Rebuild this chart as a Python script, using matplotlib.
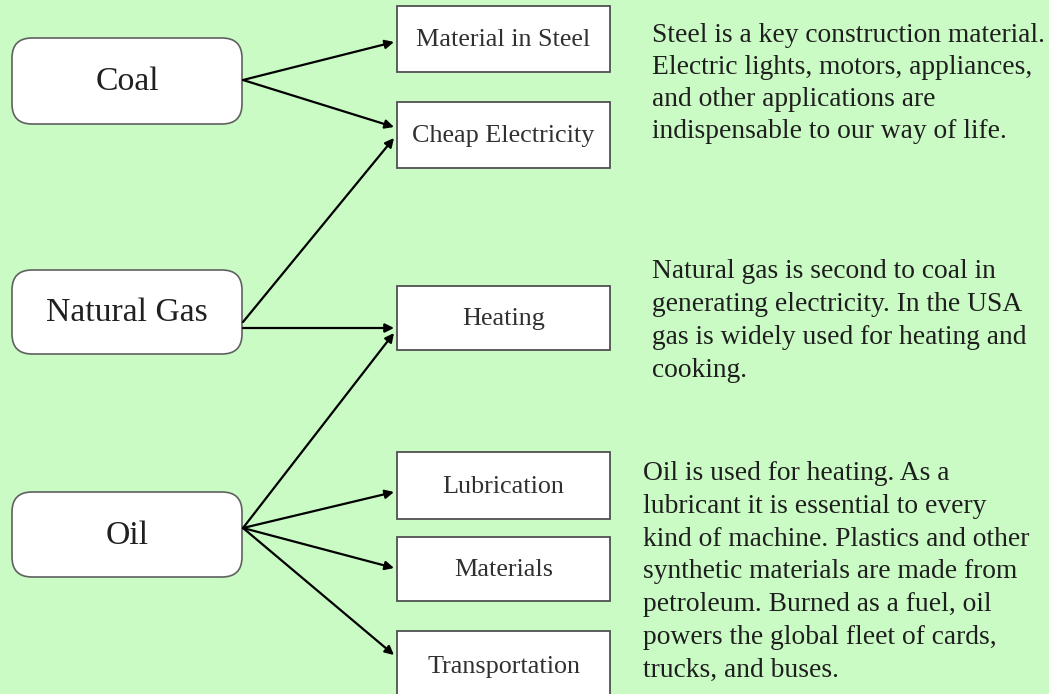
import matplotlib.pyplot as plt
from matplotlib.patches import FancyBboxPatch, Rectangle

plt.rcParams['font.family'] = ['Liberation Serif', 'DejaVu Serif']

# ── content ────────────────────────────────────────────────────────────────
sources = ["Coal", "Natural Gas", "Oil"]
uses = ["Material in Steel", "Cheap Electricity", "Heating",
        "Lubrication", "Materials", "Transportation"]
links = [("Coal", "Material in Steel"), ("Coal", "Cheap Electricity"),
         ("Natural Gas", "Cheap Electricity"), ("Natural Gas", "Heating"),
         ("Oil", "Heating"), ("Oil", "Lubrication"),
         ("Oil", "Materials"), ("Oil", "Transportation")]
notes = [
    ["Steel is a key construction material.",
     "Electric lights, motors, appliances,",
     "and other applications are",
     "indispensable to our way of life."],
    ["Natural gas is second to coal in",
     "generating electricity. In the USA",
     "gas is widely used for heating and",
     "cooking."],
    ["Oil is used for heating. As a",
     "lubricant it is essential to every",
     "kind of machine. Plastics and other",
     "synthetic materials are made from",
     "petroleum. Burned as a fuel, oil",
     "powers the global fleet of cards,",
     "trucks, and buses."],
]

# ── layout (pixels, y down) ────────────────────────────────────────────────
W, H = 1049, 694
BG = "#cbfbc4"
src_box = {"Coal": (12, 38, 230, 86), "Natural Gas": (12, 270, 230, 84),
           "Oil": (12, 492, 230, 85)}
use_box = {"Material in Steel": (397, 6, 213, 66),
           "Cheap Electricity": (397, 102, 213, 66),
           "Heating": (397, 286, 213, 64),
           "Lubrication": (397, 452, 213, 67),
           "Materials": (397, 537, 213, 64),
           "Transportation": (397, 631, 213, 70)}
# arrow start / tip y for each (source, target)
start_y = {("Coal", "Material in Steel"): 80, ("Coal", "Cheap Electricity"): 80,
           ("Natural Gas", "Cheap Electricity"): 322, ("Natural Gas", "Heating"): 328,
           ("Oil", "Heating"): 528, ("Oil", "Lubrication"): 528,
           ("Oil", "Materials"): 528, ("Oil", "Transportation"): 528}
tip_y = {("Coal", "Material in Steel"): 42, ("Coal", "Cheap Electricity"): 127,
         ("Natural Gas", "Cheap Electricity"): 138, ("Natural Gas", "Heating"): 328,
         ("Oil", "Heating"): 333, ("Oil", "Lubrication"): 492,
         ("Oil", "Materials"): 568, ("Oil", "Transportation"): 655}
note_pos = [(652, 42, 32), (652, 278, 33), (643, 480, 32.8)]  # x, first baseline, step

fig = plt.figure(figsize=(W / 100, H / 100), dpi=100)
fig.patch.set_facecolor(BG)
ax = fig.add_axes([0, 0, 1, 1])
ax.set_xlim(0, W); ax.set_ylim(H, 0)
ax.axis("off")

for name in sources:
    x, y, w, h = src_box[name]
    ax.add_patch(FancyBboxPatch((x, y), w, h, boxstyle="round,pad=0,rounding_size=20",
                                fc="white", ec="#606060", lw=1.2, zorder=2))
    ax.text(x + w / 2, y + h / 2 + 1, name, ha="center", va="center",
            fontsize=24.3, color="#202020", zorder=3)

for name in uses:
    x, y, w, h = use_box[name]
    ax.add_patch(Rectangle((x, y), w, h, fc="white", ec="#505050", lw=1.3, zorder=2))
    ax.text(x + w / 2, y + h / 2 + 1, name, ha="center", va="center",
            fontsize=18.8, color="#303030", zorder=3)

for s, t in links:
    x0 = src_box[s][0] + src_box[s][2] + 1
    x1 = use_box[t][0] - 3
    ax.annotate("", xy=(x1, tip_y[(s, t)]), xytext=(x0, start_y[(s, t)]),
                arrowprops=dict(arrowstyle="-|>", color="black", lw=1.6,
                                mutation_scale=13, shrinkA=0, shrinkB=0), zorder=4)

for (x, y0, step), lines in zip(note_pos, notes):
    for i, line in enumerate(lines):
        ax.text(x, y0 + i * step, line, ha="left", va="baseline", fontsize=19.8,
                color="#1e1e1e", zorder=3)

fig.savefig("out.png", dpi=100, facecolor=BG)
